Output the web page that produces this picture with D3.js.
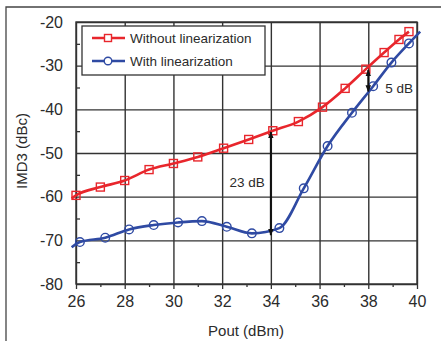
<!DOCTYPE html>
<html>
<head>
<meta charset="utf-8">
<script src="https://cdn.jsdelivr.net/npm/d3@7"></script>
<style>
  body { margin: 0; background: #fff; }
  svg { display: block; font-family: "Liberation Sans", Arial, sans-serif; }
</style>
</head>
<body>
<svg></svg>
<script>
// datos
var xTicks = [26, 28, 30, 32, 34, 36, 38, 40];
var yTicks = [-20, -30, -40, -50, -60, -70, -80];
var seriesNames = ["Without linearization", "With linearization"];

var redX = [26, 27, 28, 29, 30, 31, 32.06, 33.09, 34.08, 35.13, 36.12, 37.05, 37.9, 38.65, 39.26, 39.67];
var redY = [-59.7, -57.8, -56.3, -53.8, -52.4, -50.9, -48.9, -46.9, -44.9, -42.8, -39.5, -35.2, -30.8, -27.0, -24.0, -22.2];
var blueX = [26.16, 27.2, 28.18, 29.19, 30.19, 31.17, 32.19, 33.22, 34.35, 35.35, 36.33, 37.33, 38.2, 38.95, 39.67];
var blueY = [-70.4, -69.4, -67.5, -66.5, -65.9, -65.6, -66.9, -68.4, -67.2, -58.1, -48.4, -40.8, -34.7, -29.3, -24.9];
// extremos de las curvas (sin marcador)
var redEnds = [[25.82, -60.4]];
var blueEnds = [[25.82, -71.6], [40.13, -22.2]];
// flechas: [x, desde, hasta, texto]
var gaps = [[34, -45.2, -68.8, "23 dB"], [38, -31.0, -35.9, "5 dB"]];

var width = 441, height = 341;
var red = "#e8262c", blue = "#2f4aa3", ink = "#2b2b2b";

var svg = d3.select("svg").attr("width", width).attr("height", height);

// marco exterior
svg.append("path").attr("d", "M6,341V7H441").attr("fill", "none")
  .attr("stroke", "#444").attr("stroke-width", 1.3);

var x = d3.scaleLinear().domain([26, 40]).range([76, 417]);
var y = d3.scaleLinear().domain([-80, -20]).range([284, 22]);

var defs = svg.append("defs");
defs.append("marker").attr("id", "ah").attr("viewBox", "0 0 10 10")
  .attr("refX", 9).attr("refY", 5).attr("markerWidth", 7).attr("markerHeight", 9)
  .attr("markerUnits", "userSpaceOnUse").attr("orient", "auto-start-reverse")
  .append("path").attr("d", "M0,1L10,5L0,9Z").attr("fill", "#111");

// rejilla
var grid = svg.append("g");
grid.append("g").attr("transform", "translate(0,284)")
  .call(d3.axisBottom(x).tickValues(xTicks).tickSize(-262).tickFormat(""))
  .call(function(g) { g.select(".domain").remove(); })
  .selectAll("line").attr("stroke", "#333").attr("stroke-width", 1.4);
grid.append("g").attr("transform", "translate(76,0)")
  .call(d3.axisLeft(y).tickValues(yTicks).tickSize(-341).tickFormat(""))
  .call(function(g) { g.select(".domain").remove(); })
  .selectAll("line").attr("stroke", "#333").attr("stroke-width", 1.4);

// marcas menores
svg.append("g").attr("transform", "translate(0,284)")
  .call(d3.axisBottom(x).tickValues([27, 29, 31, 33, 35, 37, 39]).tickSize(3).tickFormat(""))
  .call(function(g) { g.select(".domain").remove(); })
  .selectAll("line").attr("stroke", "#333").attr("stroke-width", 1.3);
svg.append("g").attr("transform", "translate(76,0)")
  .call(d3.axisLeft(y).tickValues([-25, -35, -45, -55, -65, -75]).tickSize(-4).tickFormat(""))
  .call(function(g) { g.select(".domain").remove(); })
  .selectAll("line").attr("stroke", "#333").attr("stroke-width", 1.3);

// ejes
var plain = function(d) { return String(d); };
var xAxis = svg.append("g").attr("transform", "translate(0,284)")
  .call(d3.axisBottom(x).tickValues(xTicks).tickFormat(plain).tickSize(5).tickPadding(7));
var yAxis = svg.append("g").attr("transform", "translate(76,0)")
  .call(d3.axisLeft(y).tickValues(yTicks).tickFormat(plain).tickSize(0).tickPadding(13));
[xAxis, yAxis].forEach(function(a) {
  a.select(".domain").remove();
  a.selectAll("line").attr("stroke", "#333").attr("stroke-width", 1.3);
  a.selectAll("text").attr("font-size", 16).attr("fill", ink)
    .style("font-family", "Liberation Sans, Arial, sans-serif");
});

// marco del grafico
svg.append("rect").attr("x", 76).attr("y", 22).attr("width", 341).attr("height", 262)
  .attr("fill", "none").attr("stroke", "#333").attr("stroke-width", 1.4);

// curvas
var line = d3.line().x(function(d) { return x(d[0]); }).y(function(d) { return y(d[1]); })
  .curve(d3.curveMonotoneX);
var redPts = redEnds.concat(d3.zip(redX, redY));
var bluePts = [blueEnds[0]].concat(d3.zip(blueX, blueY), [blueEnds[1]]);

svg.append("path").datum(bluePts).attr("d", line).attr("fill", "none")
  .attr("stroke", blue).attr("stroke-width", 2.6);
svg.append("path").datum(redPts).attr("d", line).attr("fill", "none")
  .attr("stroke", red).attr("stroke-width", 2.6);

svg.append("g").selectAll("circle").data(d3.zip(blueX, blueY)).enter().append("circle")
  .attr("cx", function(d) { return x(d[0]); })
  .attr("cy", function(d) { return y(d[1]); })
  .attr("r", 4.3).attr("fill", "none").attr("stroke", blue).attr("stroke-width", 1.4);
svg.append("g").selectAll("rect").data(d3.zip(redX, redY)).enter().append("rect")
  .attr("x", function(d) { return x(d[0]) - 4; })
  .attr("y", function(d) { return y(d[1]) - 4; })
  .attr("width", 8).attr("height", 8)
  .attr("fill", "none").attr("stroke", red).attr("stroke-width", 1.4);

// flechas
var ag = svg.append("g").selectAll("g").data(gaps).enter().append("g");
ag.append("line")
  .attr("x1", function(d) { return x(d[0]); }).attr("x2", function(d) { return x(d[0]); })
  .attr("y1", function(d) { return y(d[1]); }).attr("y2", function(d) { return y(d[2]); })
  .attr("stroke", "#111").attr("stroke-width", 2)
  .attr("marker-start", "url(#ah)").attr("marker-end", "url(#ah)");
ag.append("text")
  .attr("x", function(d, i) { return i == 0 ? x(d[0]) - 6 : x(d[0]) + 17; })
  .attr("y", function(d, i) { return i == 0 ? 187 : 93; })
  .attr("text-anchor", function(d, i) { return i == 0 ? "end" : "start"; })
  .attr("font-size", 13.5).attr("fill", ink)
  .text(function(d) { return d[3]; });

// leyenda
var leg = svg.append("g");
leg.append("rect").attr("x", 82).attr("y", 26).attr("width", 183).attr("height", 49)
  .attr("fill", "#fff").attr("stroke", "#333").attr("stroke-width", 1.3);
var li = leg.selectAll("g").data(seriesNames).enter().append("g")
  .attr("transform", function(d, i) { return "translate(0," + (38 + i * 23) + ")"; });
li.append("line").attr("x1", 92).attr("x2", 125).attr("y1", 0).attr("y2", 0)
  .attr("stroke", function(d, i) { return i == 0 ? red : blue; }).attr("stroke-width", 2.6);
li.filter(function(d, i) { return i == 0; }).append("rect")
  .attr("x", 104.5).attr("y", -3.5).attr("width", 7).attr("height", 7)
  .attr("fill", "#fff").attr("stroke", red).attr("stroke-width", 1.4);
li.filter(function(d, i) { return i == 1; }).append("circle")
  .attr("cx", 108).attr("cy", 0).attr("r", 3.8)
  .attr("fill", "#fff").attr("stroke", blue).attr("stroke-width", 1.4);
li.append("text").attr("x", 130).attr("y", 5).attr("font-size", 13.5).attr("fill", ink)
  .text(function(d) { return d; });

// titulos de ejes
svg.append("text").attr("x", 246).attr("y", 336).attr("text-anchor", "middle")
  .attr("font-size", 15).attr("fill", ink).text("Pout (dBm)");
svg.append("text").attr("transform", "translate(27,151) rotate(-90)").attr("text-anchor", "middle")
  .attr("font-size", 15).attr("fill", ink).text("IMD3 (dBc)");
</script>
</body>
</html>
